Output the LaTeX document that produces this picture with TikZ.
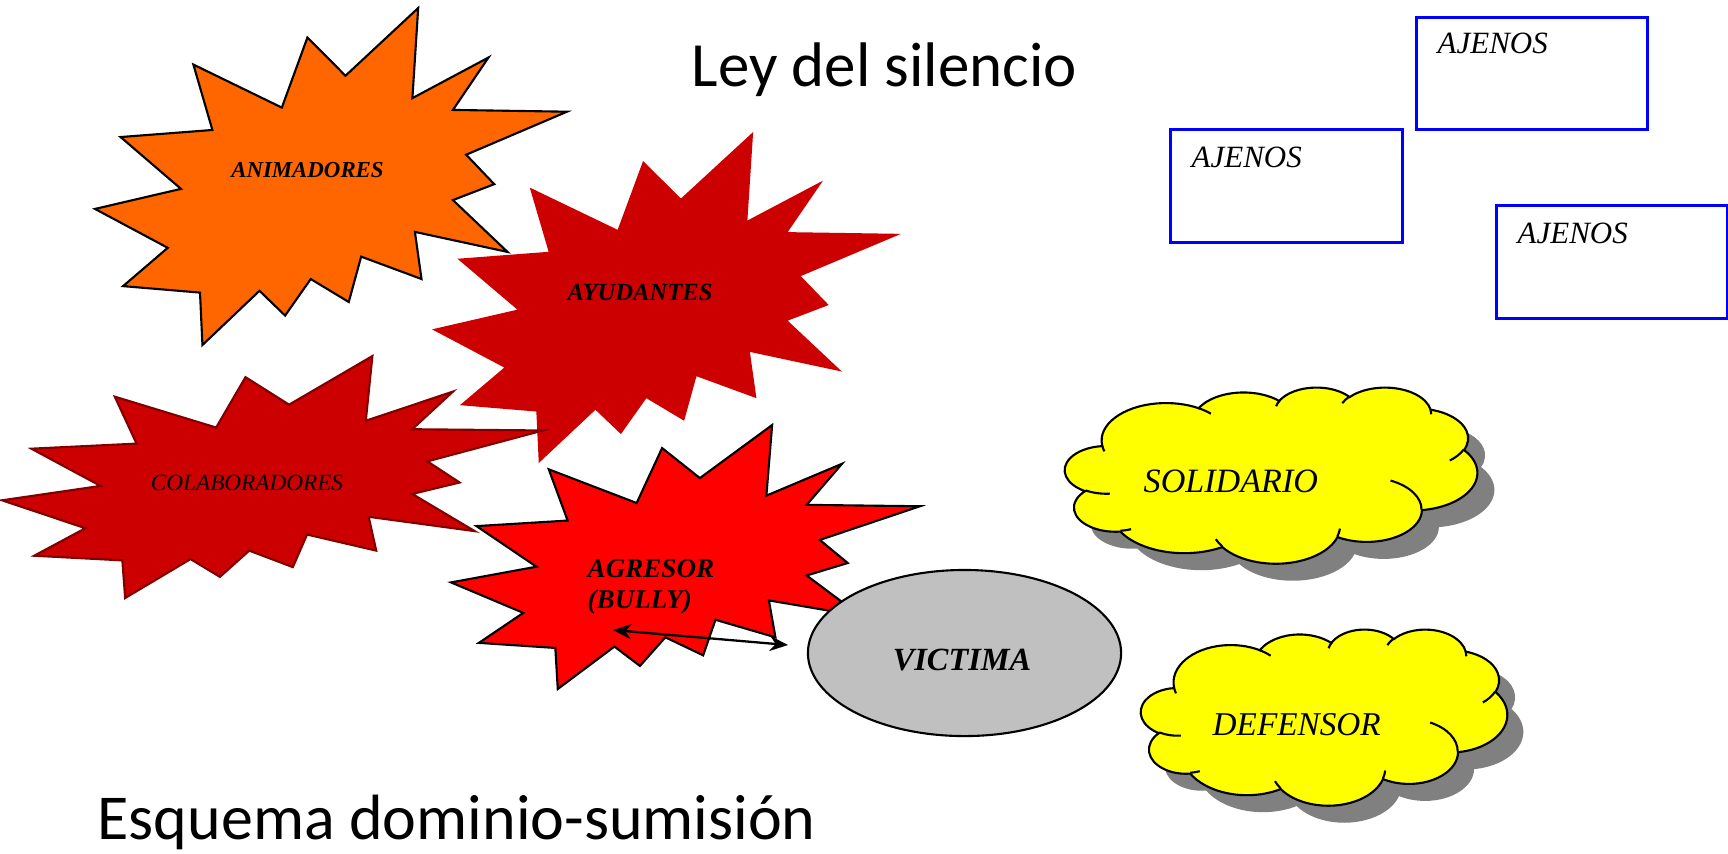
\documentclass[tikz,border=0pt]{standalone}
\usepackage{fontspec}
\setmainfont{Liberation Serif}
\newfontfamily\calib{Carlito}
\usetikzlibrary{shapes.geometric,arrows.meta}

\definecolor{orng}{HTML}{FF6600}
\definecolor{dred}{HTML}{CC0000}
\definecolor{dredline}{HTML}{800000}
\definecolor{agrred}{HTML}{FF0000}
\definecolor{vicgray}{HTML}{C0C0C0}
\definecolor{cloudyel}{HTML}{FFFF00}
\definecolor{shadowgray}{HTML}{808080}
\definecolor{boxblue}{HTML}{0000FF}

% elliptic arc given with "visual" angles -> parametric angles (y axis pointing down)
\newcommand\defarc[5]{%
  \pgfmathsetmacro\cldS{atan2((#2)*sin(#4),(#3)*cos(#4))}%
  \pgfmathsetmacro\cldE{atan2((#2)*sin((#4)+(#5)),(#3)*cos((#4)+(#5)))}%
  \pgfmathsetmacro\cldD{(\cldE)-(\cldS)}%
  \pgfmathsetmacro\cldD{(\cldD)+360*round(((#5)-(\cldD))/360)}%
  \pgfmathsetmacro\cldS{0-(\cldS)}%
  \pgfmathsetmacro\cldD{0-(\cldD)}%
  \pgfmathsetmacro\cldA{(#2)/100}%
  \pgfmathsetmacro\cldB{(#3)/100}%
  \edef\cldX{\noexpand\tikzset{#1/.style={start angle=\cldS,delta angle=\cldD,x radius=\cldA cm,y radius=\cldB cm}}}%
  \cldX}

\defarc{cA1}{675.3}{919.0}{-190.4875}{123.7805}
\defarc{cA2}{533.3}{726.7}{-144.1024}{89.9452}
\defarc{cA3}{436.5}{594.5}{-145.8079}{99.7230}
\defarc{cA4}{485.7}{659.5}{-130.9861}{117.2417}
\defarc{cA5}{533.3}{727.3}{-78.7089}{109.0269}
\defarc{cA6}{677.5}{922.0}{-46.2673}{130.2690}
\defarc{cA7}{578.5}{786.7}{0.6250}{114.0333}
\defarc{cA8}{675.2}{921.5}{22.4516}{115.1726}
\defarc{cA9}{772.0}{1054.3}{66.2426}{75.7110}
\defarc{cA10}{436.0}{591.8}{-274.9421}{146.7356}
\defarc{cA11}{434.5}{594.5}{-246.8285}{152.5189}

\defarc{cB1}{434.5}{594.5}{86.7420}{26.4295}
\defarc{cB2}{436.0}{591.8}{73.6105}{11.4475}
\defarc{cB3}{675.2}{921.5}{137.6242}{14.0811}
\defarc{cB4}{675.2}{921.5}{6.4533}{15.9984}
\defarc{cB5}{578.5}{786.7}{-70.2924}{70.9174}
\defarc{cB6}{533.3}{727.3}{30.3180}{27.7515}
\defarc{cB7}{485.7}{659.5}{-13.7443}{14.8589}
\defarc{cB8}{485.7}{659.5}{-149.1815}{18.1954}
\defarc{cB9}{436.5}{594.5}{-163.4943}{17.6864}
\defarc{cB10}{675.3}{919.0}{-66.7070}{12.3194}
\defarc{cB11}{675.3}{919.0}{157.6544}{11.8582}

\tikzset{
  pics/seal/.style={code={
    \path[pic actions] (114.62,43.42) -- (147.90,0) -- (145.25,57.77) -- (180.07,31.72)
      -- (163.80,65.32) -- (216,66.45) -- (169.85,94.02) -- (182.70,112.90)
      -- (163.80,123.10) -- (188.77,156.32) -- (146.40,143.50) -- (149.42,173.70)
      -- (121.80,159.35) -- (116.12,188.42) -- (98.72,173.70) -- (87.00,197.12)
      -- (75.27,181.25) -- (49.17,216) -- (48.05,182.40) -- (12.85,178.25)
      -- (33.30,153.70) -- (0,128.77) -- (39.35,115.92) -- (11.72,82.70)
      -- (53.72,78.17) -- (45.02,36.25) -- (85.50,63.82) -- (97.22,18.87) -- cycle;
  }},
  pics/cloudbody/.style={code={
    \path[pic actions] (390,1437) arc[cA1] arc[cA2] arc[cA3] arc[cA4] arc[cA5]
      arc[cA6] arc[cA7] arc[cA8] arc[cA9] arc[cA10] arc[cA11] -- cycle;
  }},
  pics/cloudhints/.style={code={
    \path[pic actions] (469.3,2617.7) arc[cB1] (692.8,3489.9) arc[cB2]
      (1647.8,3909.0) arc[cB3] (2882.7,3475.1) arc[cB4] (3412.9,2295.4) arc[cB5]
      (4179.8,1535.4) arc[cB6] (3832.4,542.6) arc[cB7] (2907.8,395.2) arc[cB8]
      (2214.1,472.0) arc[cB9] (1400.0,519.2) arc[cB10] (412.7,1578.9) arc[cB11];
  }},
  lbl/.style={inner sep=0pt, text=black},
  ajbox/.style={draw=boxblue, line width=0.85pt, inner sep=0pt},
  twoway/.style={line width=0.65pt, >={Stealth[length=5.2pt,width=4.3pt]}, <->},
}

\begin{document}
\begin{tikzpicture}[x=0.01cm, y=-0.01cm]
\useasboundingbox (0,0) rectangle (1728,853);
\fill[white] (0,0) rectangle (1728,853);

% starbursts
\pic[fill=orng, draw=black, line width=0.6pt, xscale=2.1852, yscale=1.5602] at (95,8) {seal};
\pic[fill=dred, xscale=2.1713, yscale=1.5324] at (432,132) {seal};
\pic[fill=dred, draw=dredline, line width=0.6pt, xscale=2.5046, yscale=1.1204] at (2,356) {seal};
\pic[fill=agrred, draw=black, line width=0.6pt, xscale=2.1713, yscale=1.2222] at (451,425) {seal};

% victim
\node[ellipse, draw=black, fill=vicgray, line width=0.6pt, minimum width=3.13cm,
      minimum height=1.66cm, inner sep=0pt] (vic) at (964.5,653) {};

% arrow
\coordinate (arrL) at (613,630);
\coordinate (arrR) at (788,645);
\draw[twoway] (arrL) -- (arrR);

% clouds
\pic[fill=shadowgray, xscale=0.095370, yscale=0.040741] at (1082,404) {cloudbody};
\pic[fill=cloudyel, draw=black, line width=0.6pt, xscale=0.095370, yscale=0.040741] at (1065,387) {cloudbody};
\pic[draw=black, line width=0.6pt, xscale=0.095370, yscale=0.040741] at (1065,387) {cloudhints};

\pic[fill=shadowgray, xscale=0.084722, yscale=0.040741] at (1157,646) {cloudbody};
\pic[fill=cloudyel, draw=black, line width=0.6pt, xscale=0.084722, yscale=0.040741] at (1141,629) {cloudbody};
\pic[draw=black, line width=0.6pt, xscale=0.084722, yscale=0.040741] at (1141,629) {cloudhints};

% boxes
\node[ajbox, minimum width=2.30cm, minimum height=1.11cm] (box1) at (1532,73.5) {};
\node[ajbox, minimum width=2.31cm, minimum height=1.12cm] (box2) at (1286.5,186) {};
\node[ajbox, minimum width=2.30cm, minimum height=1.12cm] (box3) at (1612,262) {};

% texts
\node[lbl, anchor=base west, font=\calib\fontsize{17.9}{21}\selectfont] (title) at (691,86) {Ley del silencio};
\node[lbl, anchor=base west, font=\calib\fontsize{18.2}{22}\selectfont] (subtitle) at (97,839) {Esquema dominio-sumisión};

\node[lbl, anchor=base, font=\bfseries\itshape\fontsize{6.5}{7.5}\selectfont] (tAnim) at (307.5,177) {ANIMADORES};
\node[lbl, anchor=base, font=\bfseries\itshape\fontsize{7.0}{8}\selectfont] (tAyu) at (640,300) {AYUDANTES};
\node[lbl, anchor=base, font=\itshape\fontsize{6.6}{7.5}\selectfont] (tCol) at (247,490) {COLABORADORES};
\node[lbl, anchor=base west, font=\bfseries\itshape\fontsize{7.7}{9}\selectfont] (tAgr) at (587,577) {AGRESOR};
\node[lbl, anchor=base west, font=\bfseries\itshape\fontsize{7.7}{9}\selectfont] (tBul) at (587,608) {(BULLY)};
\node[lbl, anchor=base, font=\bfseries\itshape\fontsize{9.2}{11}\selectfont] (tVic) at (962,670) {VICTIMA};

\node[lbl, anchor=base west, font=\itshape\fontsize{8.8}{10}\selectfont] (tAj1) at (1437,53) {AJENOS};
\node[lbl, anchor=base west, font=\itshape\fontsize{8.8}{10}\selectfont] (tAj2) at (1191,167) {AJENOS};
\node[lbl, anchor=base west, font=\itshape\fontsize{8.8}{10}\selectfont] (tAj3) at (1517,243) {AJENOS};

\node[lbl, anchor=base west, font=\itshape\fontsize{9.7}{11}\selectfont] (tSol) at (1143,492) {SOLIDARIO};
\node[lbl, anchor=base west, font=\itshape\fontsize{9.45}{11}\selectfont] (tDef) at (1212,735) {DEFENSOR};
\end{tikzpicture}
\end{document}
